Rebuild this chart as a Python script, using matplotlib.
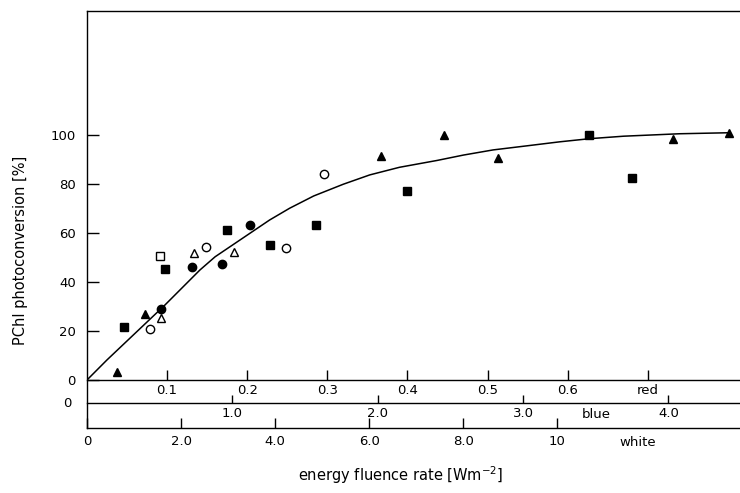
import numpy as np
import matplotlib.pyplot as plt

# x values on the red-light scale [W m-2], y = PChl photoconversion [%]
filled_tri_x = [0.038, 0.073, 0.367, 0.446, 0.513, 0.732, 0.802]
filled_tri_y = [3.4, 26.8, 91.4, 100.0, 90.7, 98.2, 100.9]
open_tri_x = [0.092, 0.133, 0.184]
open_tri_y = [25.3, 51.7, 52.1]
filled_circ_x = [0.093, 0.131, 0.168, 0.204]
filled_circ_y = [29.0, 46.1, 47.5, 63.3]
open_circ_x = [0.079, 0.149, 0.249, 0.296]
open_circ_y = [20.7, 54.4, 53.9, 84.2]
filled_sq_x = [0.046, 0.098, 0.175, 0.228, 0.286, 0.399, 0.627, 0.680]
filled_sq_y = [21.8, 45.2, 61.1, 55.1, 63.3, 77.1, 100.0, 82.4]
open_sq_x = [0.091]
open_sq_y = [50.6]

# fitted curve
curve_x = [0, 0.025, 0.097, 0.141, 0.16, 0.228, 0.253, 0.283, 0.32, 0.353,
           0.39, 0.437, 0.47, 0.507, 0.55, 0.59, 0.628, 0.67, 0.74, 0.80]
curve_y = [0, 8.2, 30.5, 44.9, 50.3, 65.3, 70.1, 75.1, 79.9, 83.7,
           86.8, 89.6, 91.8, 93.9, 95.6, 97.2, 98.5, 99.5, 100.5, 100.9]

y_ticks = [0, 20, 40, 60, 80, 100]
red_ticks = [0.1, 0.2, 0.3, 0.4, 0.5, 0.6, 0.7]
red_labels = ['0.1', '0.2', '0.3', '0.4', '0.5', '0.6', 'red']
blue_ticks = [1, 2, 3, 4]
blue_labels = ['1.0', '2.0', '3.0', '4.0']
white_ticks = [0, 2, 4, 6, 8, 10]
white_labels = ['0', '2.0', '4.0', '6.0', '8.0', '10']

# scale factors between the three energy axes
BLUE_PER_RED = 5.51
WHITE_PER_RED = 17.03

YMIN, YMAX = -19.6, 150.6
BLUE_LINE_Y = -9.4

plt.rcParams['font.family'] = 'DejaVu Sans'

fig = plt.figure(figsize=(7.4, 4.93), dpi=100)
ax = fig.add_axes([87 / 740, 65 / 493, 653 / 740, 417 / 493])

ax.plot(curve_x, curve_y, color='black', lw=1.1)

mk = dict(linestyle='none', color='black', markersize=6, markeredgewidth=1.0)
ax.plot(filled_tri_x, filled_tri_y, marker='^', **mk)
ax.plot(open_tri_x, open_tri_y, marker='^', markerfacecolor='white', **mk)
ax.plot(filled_circ_x, filled_circ_y, marker='o', **mk)
ax.plot(open_circ_x, open_circ_y, marker='o', markerfacecolor='white', **mk)
ax.plot(filled_sq_x, filled_sq_y, marker='s', **mk)
ax.plot(open_sq_x, open_sq_y, marker='s', markerfacecolor='white', **mk)

ax.set_xlim(0, 653 / 801)
ax.set_ylim(YMIN, YMAX)

for s in ax.spines.values():
    s.set_linewidth(1.0)
ax.spines['right'].set_visible(False)
ax.spines['bottom'].set_position(('data', 0))

ax.set_yticks(y_ticks)
ax.set_yticklabels([str(v) for v in y_ticks])
ax.tick_params(axis='y', direction='in', length=8.5, width=1.0, pad=8, labelsize=9.5)
ax.set_xticks(red_ticks)
ax.set_xticklabels(red_labels)
ax.tick_params(axis='x', direction='in', length=7, width=1.0, pad=3, labelsize=9.5)

# blue-light scale
blue_pos = (BLUE_LINE_Y - YMIN) / (YMAX - YMIN)
bax = ax.secondary_xaxis(blue_pos, functions=(lambda r: r * BLUE_PER_RED,
                                              lambda b: b / BLUE_PER_RED))
bax.set_xticks(blue_ticks)
bax.set_xticklabels(blue_labels)
bax.tick_params(direction='in', length=5.5, width=1.0, pad=3, labelsize=9.5)
bax.spines['bottom'].set_linewidth(1.0)

# white-light scale
wax = ax.secondary_xaxis(0.0, functions=(lambda r: r * WHITE_PER_RED,
                                         lambda w: w / WHITE_PER_RED))
wax.set_xticks(white_ticks)
wax.set_xticklabels(white_labels)
wax.tick_params(direction='in', length=7, width=1.0, pad=5, labelsize=9.5)
wax.spines['bottom'].set_linewidth(1.0)

ax.text(-0.024, BLUE_LINE_Y, '0', ha='right', va='center', fontsize=9.5,
        transform=ax.get_yaxis_transform())
ax.text(3.5 / BLUE_PER_RED, -14.2, 'blue', ha='center', va='center', fontsize=9.5)
ax.text(11.7 / WHITE_PER_RED, -25.5, 'white', ha='center', va='center',
        fontsize=9.5, clip_on=False)

fig.text(0.028, 0.493, 'PChl photoconversion [%]', rotation=90,
         ha='center', va='center', fontsize=10.5)
fig.text(0.542, 0.036, r'energy fluence rate $\left[\mathrm{Wm^{-2}}\right]$',
         ha='center', va='center', fontsize=10.5)

fig.savefig('out.png', dpi=100)
